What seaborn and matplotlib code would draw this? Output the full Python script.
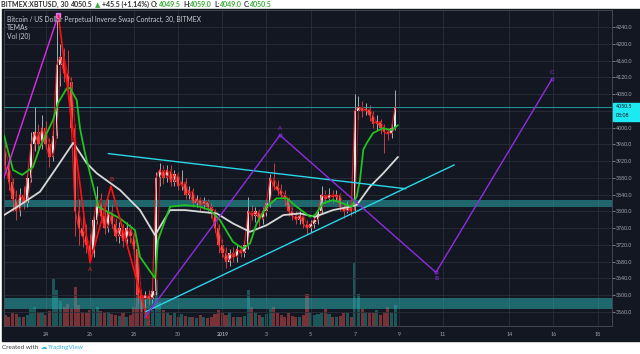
import numpy as np
import pandas as pd
import seaborn as sns
import matplotlib.pyplot as plt
from matplotlib.patches import Rectangle
from matplotlib import transforms

# --- values; x is "days since 2018-12-24 00:00" ---
# 4h candles, first one opens Dec 22 04:00, last one Jan 8 20:00
opens = [3950, 3910, 3870, 3830, 3800, 3840, 3820, 3880, 3960, 3990,
         3960, 4000, 3960, 3930, 3980, 4150, 4170, 4130, 4110, 4000,
         3800, 3760, 3740, 3720, 3700, 3780, 3830, 3790, 3760, 3800,
         3770, 3740, 3760, 3730, 3760, 3740, 3710, 3600, 3590, 3600,
         3590, 3610, 3880, 3900, 3880, 3900, 3870, 3890, 3860, 3870,
         3840, 3850, 3820, 3830, 3815, 3825, 3810, 3800, 3760, 3720,
         3700, 3680, 3700, 3690, 3710, 3700, 3720, 3800, 3790, 3800,
         3780, 3800, 3820, 3880, 3860, 3850, 3840, 3830, 3800, 3790,
         3780, 3790, 3770, 3760, 3770, 3780, 3800, 3840, 3830, 3840,
         3835, 3840, 3810, 3800, 3810, 3800, 4040, 4050, 4040, 4045,
         4030, 4010, 4015, 4000, 3990, 3985, 4000]
highs = [3965, 3925, 3880, 3850, 3855, 3860, 3890, 3990, 4050, 4010,
         4030, 4015, 3975, 3995, 4255, 4200, 4190, 4185, 4120, 4010,
         3830, 3790, 3770, 3745, 3790, 3860, 3845, 3820, 3830, 3815,
         3785, 3775, 3770, 3775, 3770, 3750, 3720, 3615, 3610, 3612,
         3620, 3895, 3915, 3910, 3910, 3910, 3900, 3895, 3900, 3880,
         3860, 3855, 3840, 3835, 3834, 3830, 3820, 3805, 3770, 3735,
         3715, 3710, 3715, 3720, 3720, 3730, 3835, 3815, 3810, 3805,
         3810, 3830, 3890, 3915, 3875, 3865, 3850, 3835, 3810, 3800,
         3800, 3795, 3780, 3780, 3790, 3810, 3860, 3850, 3855, 3850,
         3852, 3845, 3815, 3825, 3820, 4080, 4075, 4065, 4060, 4055,
         4040, 4030, 4020, 4010, 4000, 4010, 4090]
lows = [3900, 3850, 3800, 3780, 3790, 3805, 3810, 3870, 3945, 3940,
        3950, 3950, 3905, 3920, 3975, 4100, 4110, 4090, 3990, 3740,
        3720, 3715, 3700, 3680, 3690, 3770, 3780, 3745, 3750, 3760,
        3730, 3725, 3715, 3720, 3725, 3690, 3580, 3560, 3570, 3575,
        3580, 3600, 3860, 3865, 3870, 3860, 3860, 3850, 3850, 3830,
        3830, 3810, 3810, 3800, 3805, 3795, 3785, 3750, 3700, 3690,
        3665, 3670, 3680, 3680, 3690, 3690, 3710, 3780, 3775, 3765,
        3770, 3790, 3810, 3850, 3840, 3830, 3815, 3790, 3780, 3770,
        3770, 3760, 3745, 3750, 3760, 3770, 3795, 3820, 3825, 3820,
        3825, 3800, 3785, 3795, 3790, 3795, 4020, 4025, 4030, 4015,
        4000, 3995, 3985, 3940, 3970, 3975, 3995]
closes = [3910, 3870, 3830, 3800, 3840, 3820, 3880, 3960, 3990, 3960,
          4000, 3960, 3930, 3980, 4150, 4170, 4130, 4110, 4000, 3800,
          3760, 3740, 3720, 3700, 3780, 3830, 3790, 3760, 3800, 3770,
          3740, 3760, 3730, 3760, 3740, 3710, 3600, 3590, 3600, 3590,
          3610, 3880, 3900, 3880, 3900, 3870, 3890, 3860, 3870, 3840,
          3850, 3820, 3830, 3815, 3825, 3810, 3800, 3760, 3720, 3700,
          3680, 3700, 3690, 3710, 3700, 3720, 3800, 3790, 3800, 3780,
          3800, 3820, 3880, 3860, 3850, 3840, 3830, 3800, 3790, 3780,
          3790, 3770, 3760, 3770, 3780, 3800, 3840, 3830, 3840, 3835,
          3840, 3810, 3800, 3810, 3800, 4040, 4050, 4040, 4045, 4030,
          4010, 4015, 4000, 3990, 3985, 4000, 4050.5]
volumes = [70, 60, 85, 75, 60, 55, 70, 110, 120, 80,
           90, 70, 95, 300, 230, 160, 120, 140, 110, 250,
           130, 90, 80, 100, 110, 120, 95, 85, 90, 75,
           70, 65, 80, 60, 70, 120, 240, 180, 110, 90,
           100, 290, 150, 100, 80, 70, 85, 60, 75, 65,
           55, 60, 50, 70, 55, 50, 60, 75, 100, 85,
           70, 90, 60, 55, 60, 65, 230, 120, 80, 70,
           60, 75, 110, 120, 85, 70, 60, 80, 65, 60,
           55, 70, 200, 90, 70, 75, 85, 110, 75, 60,
           55, 65, 80, 85, 60, 400, 200, 110, 90, 80,
           85, 100, 70, 90, 120, 80, 130]

# slow TEMA (green) and long TEMA (white)
green_day = [-1.89, -1.48, -1.07, -0.575, -0.258, 0.33, 0.557, 0.951, 1.10, 1.404,
             1.553, 1.78, 2.006, 2.382, 3.365, 4.044, 4.271, 4.95, 5.086, 5.63,
             6.309, 6.988, 7.441, 7.894, 8.483, 8.936, 9.253, 9.556, 10.009, 10.462,
             10.915, 11.368, 11.97, 12.197, 12.559, 13.01, 13.465, 13.859, 14.085, 14.235,
             14.384, 14.538, 14.823, 15.276, 15.67, 15.955]
green_price = [3982, 3899, 3887, 3906, 3954, 4018, 4059, 4094, 4095, 4066,
               3999, 3939, 3891, 3811, 3783, 3755, 3691, 3640, 3731, 3811,
               3815, 3811, 3803, 3779, 3727, 3711, 3723, 3771, 3811, 3831,
               3831, 3811, 3787, 3791, 3819, 3827, 3819, 3811, 3835, 3875,
               3947, 3963, 3987, 3999, 3994, 4006]
white_day = [-1.889, -1.164, -0.258, 0.421, 1.25, 1.857, 2.31, 3.365, 4.271, 4.95,
             5.63, 6.309, 6.988, 7.745, 8.483, 9.253, 10.009, 10.761, 11.517, 12.197,
             13.01, 13.782, 14.085, 14.688, 15.29, 15.955]
white_price = [3791, 3815, 3847, 3899, 3964, 3915, 3891, 3851, 3803, 3743,
               3803, 3803, 3799, 3795, 3771, 3751, 3767, 3791, 3795, 3787,
               3803, 3811, 3815, 3859, 3891, 3930]

# drawings on the chart
magenta_day, magenta_price = [-1.95, 0.571], [3871, 4269]
red_wave_day, red_wave_price = [0.571, 2.006, 2.957, 4.601], [4269, 3677, 3860, 3544]
red_wave_labels = ['', 'A', 'B', 'C']
abc_day, abc_price = [4.497, 10.611, 17.677, 22.93], [3547, 3982, 3654, 4116]
abc_labels = ['', 'A', 'B', 'C']
fall_line_day, fall_line_price = [2.835, 16.317], [3938, 3854]
rise_line_day, rise_line_price = [4.529, 18.505], [3560, 3911]
zones = [(3810, 3827), (3567, 3593)]

price_ticks = list(range(3560, 4241, 40))
day_ticks = [0, 2, 4, 6, 8, 10, 12, 14, 16, 18, 21, 23, 25]
day_labels = ['24', '26', '28', '30', '2019', '3', '5', '7', '9', '11', '14', '16', '18']

# --- frame ---
BG = '#131722'
sns.set_theme(style='dark', rc={'axes.facecolor': BG, 'figure.facecolor': 'white'})
plt.rcParams['font.family'] = ['Lato', 'DejaVu Sans']

times = pd.date_range('2018-12-22 04:00', periods=len(closes), freq='4h')
df = pd.DataFrame({'day': (times - pd.Timestamp('2018-12-24')) / pd.Timedelta('1D'),
                   'open': opens, 'high': highs, 'low': lows, 'close': closes,
                   'volume': volumes})
df['up'] = df.close >= df.open

fig = plt.figure(figsize=(6.4, 3.54), dpi=100)
fig.add_artist(Rectangle((2 / 640, 13 / 354), 638 / 640, 332 / 354,
                         transform=fig.transFigure, color=BG, zorder=-1))
ax = fig.add_axes([4 / 640, 28 / 354, 608 / 640, 316 / 354])
vax = ax.twinx()
ax.set_zorder(vax.get_zorder() + 1)
ax.patch.set_visible(False)
vax.set_facecolor(BG)

# volume
vol_colors = np.where(df.up, '#26a69a', '#ef5350')
vax.bar(df.day, df.volume, width=0.14, color=vol_colors, alpha=0.45, lw=0)
vax.set_ylim(0, 2000)
vax.set_yticks([])
for s in vax.spines.values():
    s.set_visible(False)

# zones + last price line
for lo, hi in zones:
    ax.axhspan(lo, hi, color='#2bb5b8', alpha=0.5, lw=0, zorder=2.5)
ax.axhline(df.close.iloc[-1], color='#2aa7a7', lw=0.6, zorder=3)

# candles
wick_colors = np.where(df.up, '#b8c6cc', '#e04848')
body_colors = np.where(df.up, '#d4eef2', '#ef5350')
ax.vlines(df.day, df.low, df.high, colors=wick_colors, lw=0.6, zorder=2)
ax.bar(df.day, (df.close - df.open).abs().clip(lower=2),
       bottom=df[['open', 'close']].min(axis=1), width=0.11,
       color=body_colors, lw=0, zorder=2)

# TEMAs
sns.lineplot(x=df.day, y=df.open, ax=ax, color='#a01818', lw=0.8, zorder=3, errorbar=None)
sns.lineplot(x=df.day, y=df.close, ax=ax, color='#ff2020', lw=0.9, alpha=0.85, zorder=3, errorbar=None)
sns.lineplot(x=white_day, y=white_price, ax=ax, color='#d8d8d8', lw=1.3, zorder=3.2, errorbar=None)
sns.lineplot(x=green_day, y=green_price, ax=ax, color='#1fc21f', lw=1.3, zorder=3.3, errorbar=None)

# drawings
ax.plot(magenta_day, magenta_price, color='#e02ae8', lw=1.0, zorder=4)
ax.plot(magenta_day[-1], magenta_price[-1], 's', ms=2.5, color='#e86cf0', zorder=4)
ax.plot(red_wave_day, red_wave_price, color='#ff1010', lw=1.2, zorder=4)
ax.plot(fall_line_day, fall_line_price, color='#2ad6e8', lw=1.0, zorder=4)
ax.plot(rise_line_day, rise_line_price, color='#2ad6e8', lw=1.0, zorder=4)
ax.plot(abc_day, abc_price, color='#8e2de2', lw=1.0, zorder=4)
ax.plot(abc_day[1:], abc_price[1:], 'o', ms=2.2, mfc='none', mec='#8e2de2', mew=0.6, zorder=4)

offsets = {'A': -5, 'B': 5, 'C': -3.5}
for d, p, lab in zip(red_wave_day, red_wave_price, red_wave_labels):
    if lab:
        ax.annotate(lab, (d, p), xytext=(1 if lab == 'C' else 0, offsets[lab]),
                    textcoords='offset points', ha='center', va='center',
                    fontsize=4.5, color='#d83030', zorder=5)
for d, p, lab in zip(abc_day, abc_price, abc_labels):
    if lab:
        ax.annotate(lab, (d, p), xytext=(0, -4.5 if lab == 'B' else 4.5),
                    textcoords='offset points', ha='center', va='center',
                    fontsize=4.5, color='#8e2de2', zorder=5)

# axes
ax.set_xlim(-1.889, 25.65)
ax.set_ylim(3525.8, 4281.4)
ax.yaxis.tick_right()
ax.set_yticks(price_ticks)
ax.set_yticklabels(['' if v == 4040 else f'{v:.1f}' for v in price_ticks])
ax.set_xticks(day_ticks)
ax.set_xticklabels(day_labels)
for t in ax.get_xticklabels():
    if t.get_text() == '2019':
        t.set_fontweight('bold')
ax.tick_params(axis='y', labelsize=3.8, colors='#a3a6af', length=2, width=0.5, pad=1)
ax.tick_params(axis='x', labelsize=3.8, colors='#a3a6af', length=0, pad=4.5)
ax.set_xlabel('')
ax.set_ylabel('')
ax.grid(True, color='#2a2e39', lw=0.6)
for s in ax.spines.values():
    s.set_color('#4a4e59')
    s.set_linewidth(0.6)

# last price tag
blend = transforms.blended_transform_factory(ax.transAxes, ax.transData)
last = df.close.iloc[-1]
ax.add_patch(Rectangle((1.001, last - 33.5), 0.046, 41.4, transform=blend,
                       color='#1ee8f2', clip_on=False, zorder=6))
ax.text(1.006, last, f'{last:.1f}', transform=blend, fontsize=3.8, color=BG,
        va='center', ha='left', zorder=7)
ax.text(1.006, last - 21, '08:08', transform=blend, fontsize=3.8, color=BG,
        va='center', ha='left', zorder=7)

# legend block
for y_px, s in [(19, 'Bitcoin / US Dollar Perpetual Inverse Swap Contract, 30, BITMEX'),
                (28, 'TEMAs'), (36.3, 'Vol (20)')]:
    ax.text(3 / 608, (326 - y_px) / 316, s, transform=ax.transAxes,
            fontsize=4.9, color='#c9ccd4', va='center', ha='left', zorder=6)


def text_row(x_px, y_px, pieces, size, weight='normal'):
    r = fig.canvas.get_renderer()
    for s, c, gap in pieces:
        t = fig.text(x_px / 640, 1 - y_px / 354, s, color=c, fontsize=size,
                     fontweight=weight, va='center', ha='left')
        x_px += t.get_window_extent(r).width + gap


dark, green = '#2f2f2f', '#3cae3c'
text_row(1, 4.5, [('BITMEX:XBTUSD, 30', dark, 2.5), ('4050.5', dark, 2),
                  ('▲', green, 1.5), ('+45.5 (+1.14%)', dark, 2.5),
                  ('O:', dark, 0), ('4049.5', green, 2.5), ('H:', dark, 0),
                  ('4059.0', green, 2.5), ('L:', dark, 0), ('4049.0', green, 2.5),
                  ('C:', dark, 0), ('4050.5', green, 0)], 5.0, 'bold')
text_row(2, 347.5, [('Created with', '#3a3a3a', 2), ('☁', '#3bb3e4', 1),
                    ('TradingView', '#3bb3e4', 0)], 4.6)

fig.savefig('out.png', dpi=100)
